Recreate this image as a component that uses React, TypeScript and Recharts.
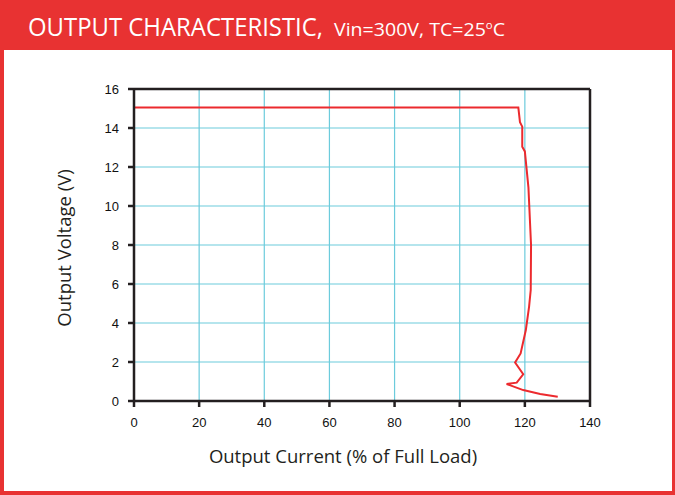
import React from 'react';
import { LineChart, Line, XAxis, YAxis, CartesianGrid, ReferenceLine } from 'recharts';

// in drawing order (current can go back and forth)
const currentPct = [0, 118.0, 118.5, 119.2, 119.2, 120.0, 121.1, 121.9, 121.8, 121.3, 120.3, 118.7, 117.0, 119.5, 117.5, 114.4, 119.5, 124.7, 130.1];
const outputVolts = [15.05, 15.05, 14.3, 14.07, 13.04, 12.8, 10.94, 8.0, 5.69, 4.84, 3.64, 2.44, 1.97, 1.37, 0.94, 0.87, 0.56, 0.36, 0.22];

const xTicks = [0, 20, 40, 60, 80, 100, 120, 140];
const xMinorTicks = [5, 10, 15, 25, 30, 35, 45, 50, 55, 65, 70, 75, 85, 90, 95, 105, 110, 115, 125, 130, 135];
const yTicks = [0, 2, 4, 6, 8, 10, 12, 14, 16];
const yMinorTicks = [1, 3, 5, 7, 9, 11, 13, 15];

const data = currentPct.map((c, i) => ({ current: c, voltage: outputVolts[i] }));

const RED = '#e83232';
const INK = '#231f20';
const GRID = '#6ccbdc';
const tickFont = { fontSize: 13, fill: '#111', fontFamily: '"Liberation Sans", Arial, sans-serif' };

export default function App() {
  return (
    <div style={{ position: 'absolute', left: 0, top: 0, width: 675, height: 495, background: RED, overflow: 'hidden' }}>
      <div style={{ position: 'absolute', left: 4, top: 50, width: 668, height: 441, background: '#fff' }} />

      <div style={{ position: 'absolute', left: 0, top: 0 }}>
        <LineChart width={675} height={495} data={data} margin={{ top: 89, right: 85, bottom: 64, left: 94 }}>
          <CartesianGrid stroke={GRID} strokeWidth={1.2} />
          <XAxis
            dataKey="current"
            type="number"
            domain={[0, 140]}
            ticks={xTicks}
            height={30}
            stroke={INK}
            strokeWidth={2.5}
            tickSize={6}
            tickMargin={11}
            tick={tickFont}
            allowDataOverflow
          />
          <XAxis
            xAxisId="minor"
            type="number"
            domain={[0, 140]}
            ticks={xMinorTicks}
            mirror
            axisLine={false}
            tick={false}
            tickSize={4}
            stroke={INK}
            strokeWidth={1.5}
          />
          <YAxis
            type="number"
            domain={[0, 16]}
            ticks={yTicks}
            width={40}
            stroke={INK}
            strokeWidth={2.5}
            tickSize={6}
            tickMargin={9}
            tick={tickFont}
            allowDataOverflow
          />
          <YAxis
            yAxisId="minor"
            type="number"
            domain={[0, 16]}
            ticks={yMinorTicks}
            mirror
            axisLine={false}
            tick={false}
            tickSize={4}
            stroke={INK}
            strokeWidth={1.5}
          />
          <ReferenceLine y={16} stroke={INK} strokeWidth={2.5} />
          <ReferenceLine x={140} stroke={INK} strokeWidth={2.5} />
          <Line
            dataKey="voltage"
            type="linear"
            stroke="#ec2a2e"
            strokeWidth={2}
            dot={false}
            isAnimationActive={false}
          />
        </LineChart>
      </div>

      <svg width={675} height={495} style={{ position: 'absolute', left: 0, top: 0, pointerEvents: 'none' }}>
        <text x={28} y={36} fill="#fff" fontSize={25} fontFamily='"Open Sans", sans-serif' textLength={295} lengthAdjust="spacingAndGlyphs">
          OUTPUT CHARACTERISTIC,
        </text>
        <text x={334} y={36} fill="#fff" fontSize={19} fontFamily='"Open Sans", sans-serif' textLength={171} lengthAdjust="spacingAndGlyphs">
          Vin=300V, TC=25
          <tspan fontSize={11} dy={-7}>o</tspan>
          <tspan dy={7}>C</tspan>
        </text>
        <text x={343} y={463} textAnchor="middle" fill={INK} fontSize={18.5} fontFamily='"Open Sans", sans-serif'>
          Output Current (% of Full Load)
        </text>
        <text
          transform="translate(71 248) rotate(-90)"
          textAnchor="middle"
          fill={INK}
          fontSize={18.5}
          fontFamily='"Open Sans", sans-serif'
        >
          Output Voltage (V)
        </text>
      </svg>
    </div>
  );
}
